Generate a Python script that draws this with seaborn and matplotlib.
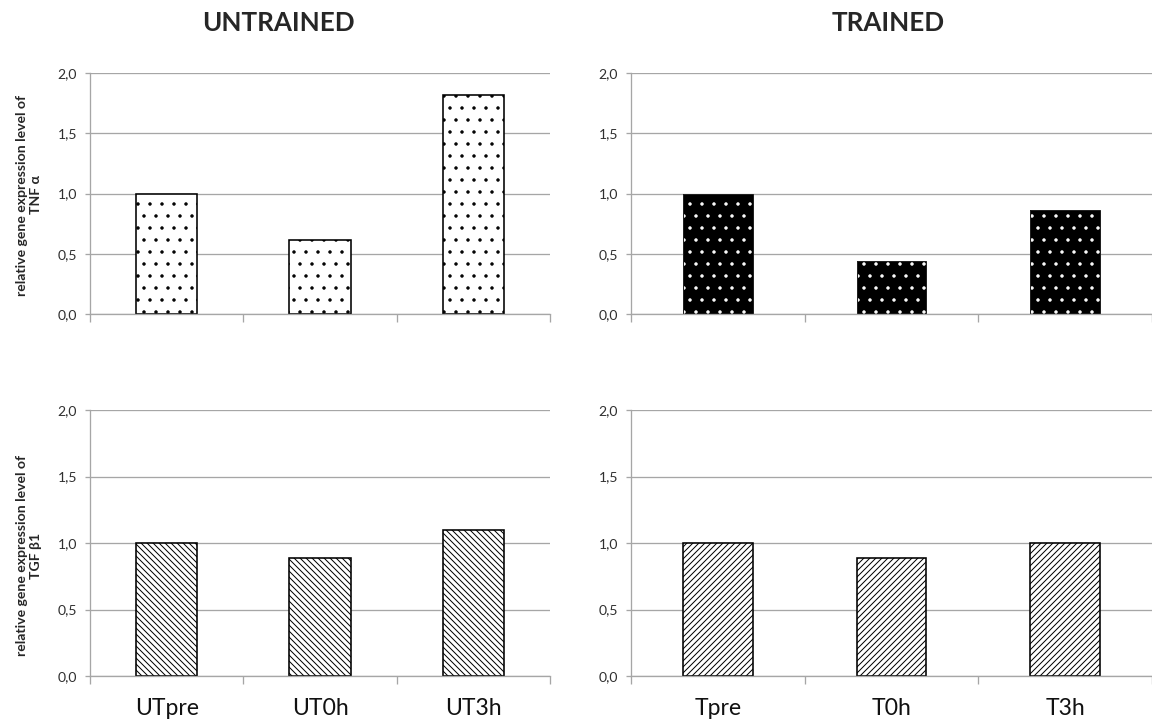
import matplotlib
matplotlib.use("Agg")
import matplotlib.pyplot as plt
import seaborn as sns
from matplotlib.ticker import FuncFormatter

# data
untrained_groups = ["UTpre", "UT0h", "UT3h"]
trained_groups = ["Tpre", "T0h", "T3h"]
tnf_untrained = [1.0, 0.61, 1.82]
tnf_trained = [1.0, 0.44, 0.865]
tgf_untrained = [1.0, 0.885, 1.10]
tgf_trained = [1.0, 0.89, 1.0]
yticks = [0.0, 0.5, 1.0, 1.5, 2.0]

sns.set_theme(style="white")
plt.rcParams['font.family'] = ['Lato', 'DejaVu Sans']
plt.rcParams['hatch.linewidth'] = 1.0

W, H = 1152, 727
fig = plt.figure(figsize=(W / 72, H / 72), dpi=72)


def px_axes(x0, x1, ytop, ybot):
    return fig.add_axes([x0 / W, 1 - ybot / H, (x1 - x0) / W, (ybot - ytop) / H])


ax_tl = px_axes(90, 550, 73, 314)
ax_tr = px_axes(631, 1152, 73, 314)
ax_bl = px_axes(90, 550, 410, 676)
ax_br = px_axes(631, 1152, 410, 676)

grey = "#a6a6a6"

# top left: white bars, black dots
sns.barplot(x=untrained_groups, y=tnf_untrained, ax=ax_tl, width=0.4, color="white",
            saturation=1, edgecolor="black", linewidth=1.6, hatch=".")
# top right: black bars, white dots, then a dark outline on top
sns.barplot(x=trained_groups, y=tnf_trained, ax=ax_tr, width=0.4, color="black",
            saturation=1, edgecolor="white", linewidth=0, hatch=".")
sns.barplot(x=trained_groups, y=tnf_trained, ax=ax_tr, width=0.4, fill=False,
            color="#202020", linewidth=1.0)
# bottom: dense diagonal hatches
sns.barplot(x=untrained_groups, y=tgf_untrained, ax=ax_bl, width=0.4, color="white",
            saturation=1, edgecolor="black", linewidth=1.6, hatch="\\\\\\\\")
sns.barplot(x=trained_groups, y=tgf_trained, ax=ax_br, width=0.4, color="white",
            saturation=1, edgecolor="black", linewidth=1.6, hatch="////")

fmt = FuncFormatter(lambda v, p: f"{v:.1f}".replace(".", ","))
for ax in [ax_tl, ax_tr, ax_bl, ax_br]:
    ax.set_xlim(-0.5, 2.5)
    ax.set_ylim(0, 2.0)
    ax.set_yticks(yticks)
    ax.yaxis.set_major_formatter(fmt)
    ax.set_xticks([-0.5, 0.5, 1.5, 2.5], minor=True)
    ax.yaxis.grid(True, color=grey, linewidth=1.3)
    ax.set_axisbelow(True)
    for s in ["top", "right"]:
        ax.spines[s].set_visible(False)
    for s in ["left", "bottom"]:
        ax.spines[s].set_color(grey)
        ax.spines[s].set_linewidth(1.3)
    ax.tick_params(axis="y", left=True, length=5, width=1.3, color=grey,
                   labelsize=14, labelcolor="#303030", pad=8)
    ax.tick_params(axis="x", which="major", bottom=False, length=0,
                   labelsize=23, labelcolor="#111111", pad=22)
    ax.tick_params(axis="x", which="minor", bottom=True, length=8, width=1.3,
                   color=grey)
    ax.set_xlabel("")
    ax.set_ylabel("")

for ax in [ax_tl, ax_tr]:
    ax.tick_params(axis="x", labelbottom=False)

fig.text(278 / W, 1 - 23 / H, "UNTRAINED", ha="center", va="center",
         fontsize=26, fontweight="bold")
fig.text(888 / W, 1 - 23 / H, "TRAINED", ha="center", va="center",
         fontsize=26, fontweight="bold")

fig.text(29 / W, 1 - 195 / H, "relative gene expression level of\nTNF α",
         rotation=90, ha="center", va="center", multialignment="center",
         fontsize=14, fontweight="bold", linespacing=1.25)
fig.text(29 / W, 1 - 556 / H, "relative gene expression level of\nTGF β1",
         rotation=90, ha="center", va="center", multialignment="center",
         fontsize=14, fontweight="bold", linespacing=1.25)

fig.savefig("out.png", dpi=72, facecolor="white")
